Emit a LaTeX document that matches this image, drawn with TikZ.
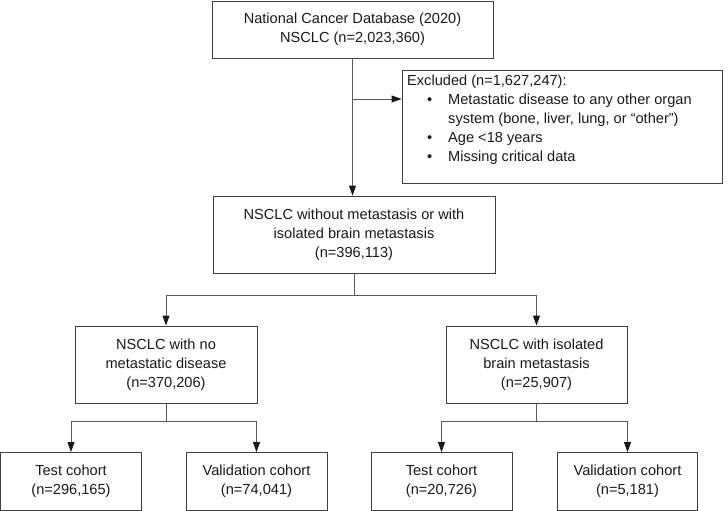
\documentclass[tikz,border=0pt]{standalone}
\usepackage{fontspec}
\setmainfont{Liberation Sans}
\usetikzlibrary{arrows.meta}
\begin{document}
\begin{tikzpicture}[x=1pt,y=-1pt,
  box/.style={draw=black!75,line width=0.9pt,align=center,inner sep=0pt,
    font=\fontsize{14.6}{19}\selectfont,text=black!90},
  conn/.style={draw=black!65,line width=0.9pt},
  arr/.style={conn,-{Triangle[length=10pt,width=7pt,color=black!90]}}]
\useasboundingbox (0,0) rectangle (728,511);
% boxes
\node[box,minimum width=281pt,minimum height=57pt] (top) at (352.5,29.5)
  {National Cancer Database (2020)\\NSCLC (n=2,023,360)};
\node[box,minimum width=320pt,minimum height=113pt] (excl) at (562,126.5) {};
\node[anchor=north west,inner sep=0pt,align=left,font=\fontsize{14.6}{19}\selectfont,text=black!90]
  (excltext) at (407,75)
  {Excluded (n=1,627,247):\\
   \hspace*{20pt}\makebox[21pt][l]{\textbullet}Metastatic disease to any other organ\\
   \hspace*{41pt}system (bone, liver, lung, or “other”)\\
   \hspace*{20pt}\makebox[21pt][l]{\textbullet}Age <18 years\\
   \hspace*{20pt}\makebox[21pt][l]{\textbullet}Missing critical data};
\node[box,minimum width=282pt,minimum height=77pt] (mid) at (354,234.5)
  {NSCLC without metastasis or with\\isolated brain metastasis\\(n=396,113)};
\node[box,minimum width=182pt,minimum height=77pt] (nometa) at (166,364.5)
  {NSCLC with no\\metastatic disease\\(n=370,206)};
\node[box,minimum width=181pt,minimum height=77pt] (brain) at (536.5,364.5)
  {NSCLC with isolated\\brain metastasis\\(n=25,907)};
\node[box,minimum width=141pt,minimum height=58pt] (t1) at (71,481.5)
  {Test cohort\\(n=296,165)};
\node[box,minimum width=141pt,minimum height=58pt] (v1) at (256.5,481.5)
  {Validation cohort\\(n=74,041)};
\node[box,minimum width=141pt,minimum height=58pt] (t2) at (441.5,481.5)
  {Test cohort\\(n=20,726)};
\node[box,minimum width=140pt,minimum height=58pt] (v2) at (627.5,481.5)
  {Validation cohort\\(n=5,181)};
% connectors
\draw[arr] (top.south) -- (top.south |- mid.north);
\coordinate (j0) at (352.5,99);
\draw[arr] (j0) -- (j0 -| excl.west);
\coordinate (j1) at (354,295);
\draw[conn] (mid.south) -- (j1);
\draw[arr] (j1) -| (nometa.north);
\draw[arr] (j1) -| (brain.north);
\coordinate (j2) at (166,421);
\draw[conn] (nometa.south) -- (j2);
\draw[arr] (j2) -| (t1.north);
\draw[arr] (j2) -| (v1.north);
\coordinate (j3) at (536.5,421);
\draw[conn] (brain.south) -- (j3);
\draw[arr] (j3) -| (t2.north);
\draw[arr] (j3) -| (v2.north);
\end{tikzpicture}
\end{document}
